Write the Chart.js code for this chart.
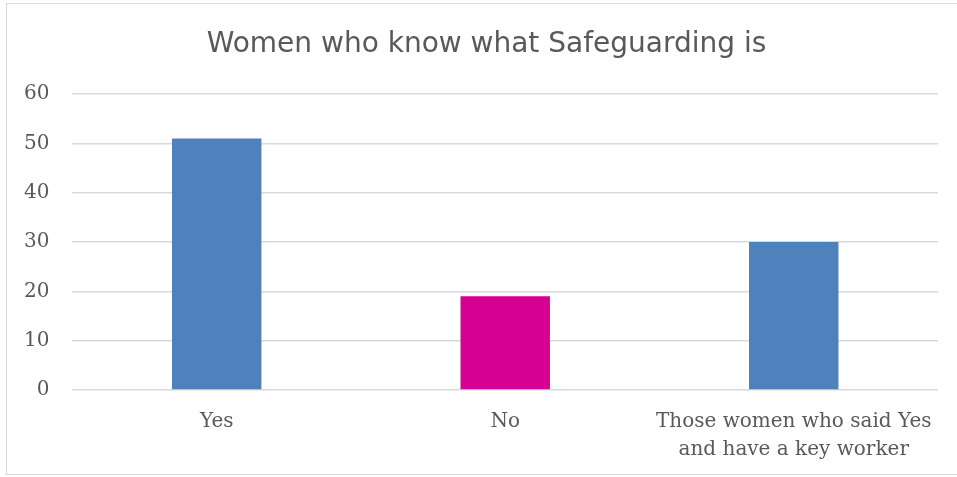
<!DOCTYPE html>
<html>
<head>
<meta charset="utf-8">
<script src="https://cdn.jsdelivr.net/npm/chart.js@4/dist/chart.umd.min.js"></script>
<style>
  html, body { margin: 0; padding: 0; background: #fff; }
  #wrap { position: relative; width: 957px; height: 477px; overflow: hidden; }
  #frame { position: absolute; left: 6px; top: 3px; width: 960px; height: 472px; border: 1px solid #d9d9d9; box-sizing: border-box; }
  #title { position: absolute; left: 6px; top: 26px; width: 961px; text-align: center; font: 28px "DejaVu Sans", sans-serif; line-height: 34px; color: #595959; }
  canvas { position: absolute; left: 0; top: 0; }
</style>
</head>
<body>
<div id="wrap">
  <div id="frame"></div>
  <canvas id="chart"></canvas>
  <div id="title">Women who know what Safeguarding is</div>
</div>
<script>
const categories = ['Yes', 'No', ['Those women who said Yes', 'and have a key worker']];
const counts = [51, 19, 30];
const barColors = ['#4F81BD', '#D60093', '#4F81BD'];
const yTicks = [0, 10, 20, 30, 40, 50, 60];

const ctx = document.getElementById('chart').getContext('2d');
new Chart(ctx, {
  type: 'bar',
  data: {
    labels: categories,
    datasets: [{
      label: 'Women',
      data: counts,
      backgroundColor: barColors,
      borderWidth: 0,
      categoryPercentage: 1,
      barPercentage: 0.31
    }]
  },
  options: {
    responsive: true,
    maintainAspectRatio: false,
    animation: false,
    layout: { padding: { left: 1, right: 19, top: 94, bottom: 3 } },
    plugins: {
      legend: { display: false },
      tooltip: { enabled: false },
      title: { display: false }
    },
    scales: {
      x: {
        grid: { display: false },
        border: { display: false },
        ticks: {
          color: '#595959',
          font: { family: '"DejaVu Serif", serif', size: 20, lineHeight: 1.4 },
          padding: 10,
          maxRotation: 0,
          autoSkip: false
        }
      },
      y: {
        min: 0,
        max: 60,
        afterBuildTicks: axis => { axis.ticks = yTicks.map(v => ({ value: v })); },
        grid: { color: '#d9d9d9', lineWidth: 1.5, drawTicks: false },
        border: { display: false },
        ticks: {
          color: '#595959',
          font: { family: '"DejaVu Serif", serif', size: 20 },
          padding: 23
        }
      }
    }
  }
});
</script>
</body>
</html>
